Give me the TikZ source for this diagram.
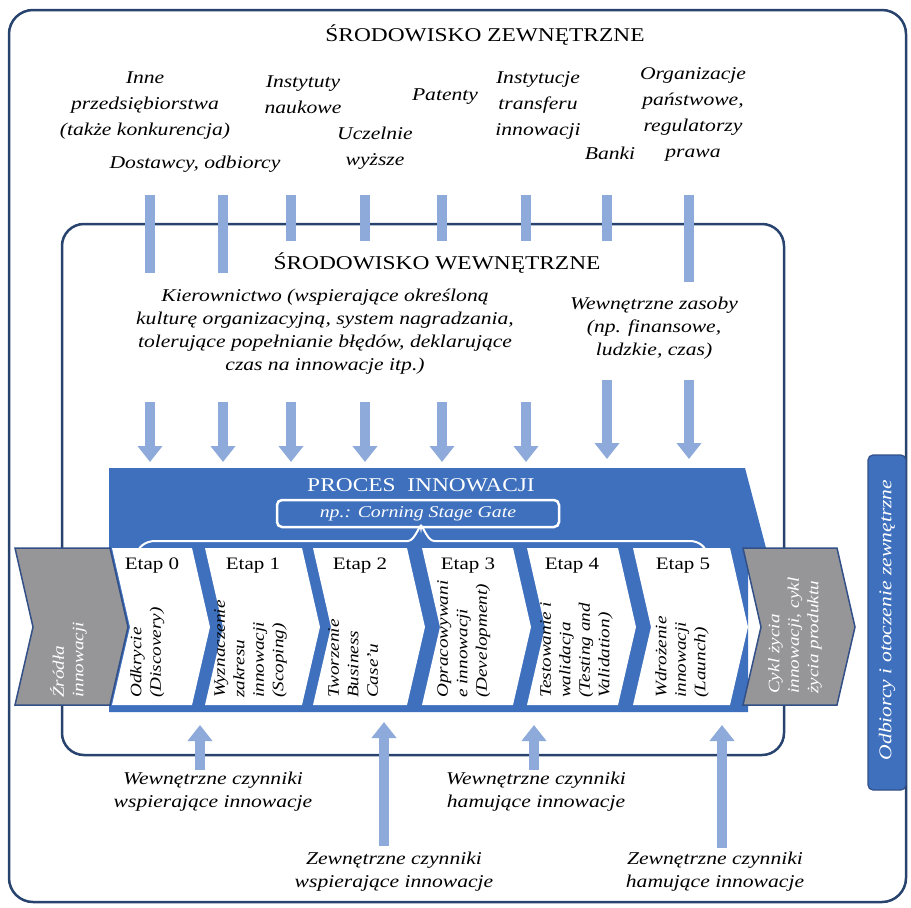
\documentclass[tikz,border=0pt]{standalone}
\usepackage{fontspec}
\setmainfont{Liberation Serif}[FakeStretch=1.2]
\usetikzlibrary{arrows.meta}
\definecolor{frame}{RGB}{40,68,110}
\definecolor{lblue}{RGB}{142,170,219}
\definecolor{pblue}{RGB}{62,112,190}
\definecolor{cgray}{RGB}{150,150,152}
\definecolor{cedge}{RGB}{50,80,135}
\tikzset{
  envbox/.style={draw=frame, line width=2.5pt, rounded corners=24pt},
  feedline/.style={draw=lblue, line width=10pt},
  flowarrow/.style={draw=lblue, line width=10pt, -{Triangle[width=24pt,length=16pt]}},
  lbl/.style={font=\fontsize{18}{26}\selectfont\itshape, align=center, inner sep=0pt},
  lblb/.style={font=\fontsize{18}{23}\selectfont\itshape, align=center, inner sep=0pt},
  ttl/.style={font=\fontsize{19.5}{22}\selectfont, inner sep=0pt},
  etap/.style={font=\fontsize{17.5}{20}\selectfont, inner sep=0pt},
  rot/.style={font=\fontsize{16}{19.5}\selectfont\itshape, align=left, inner sep=0pt, rotate=90, anchor=north west},
  chev/.style={fill=white},
  graychev/.style={fill=cgray, draw=cedge, line width=1.5pt, line join=miter},
}
\begin{document}
\begin{tikzpicture}[x=1pt,y=-1pt]
\useasboundingbox (0,0) rectangle (911,908);
\fill[white] (0,0) rectangle (911,908);
% environments
\draw[envbox] (9,10) rectangle (906,902);
\draw[envbox, rounded corners=22pt] (62,224) rectangle (784,755);

% external texts
\node[ttl] (ext) at (485,35) {ŚRODOWISKO ZEWNĘTRZNE};
\node[lbl] (inne) at (145,106) {Inne\\przedsiębiorstwa\\(także konkurencja)};
\node[lbl] (dost) at (195,164) {Dostawcy, odbiorcy};
\node[lbl] (inst) at (303,95) {Instytuty\\naukowe};
\node[lbl] (ucz) at (375,148) {Uczelnie\\wyższe};
\node[lbl] (pat) at (445,97) {Patenty};
\node[lbl] (itr) at (538,105) {Instytucje\\transferu\\innowacji};
\node[lbl] (banki) at (610,153) {Banki};
\node[lbl] (org) at (693,114) {Organizacje\\państwowe,\\regulatorzy\\prawa};

% feed lines from the outside
\foreach \x/\e [count=\i] in {150/273,223/273,291/241,365/241,442/241,526/241,607/241,689/282}{
  \coordinate (ft\i) at (\x,195);
  \coordinate (fe\i) at (\x,\e);
  \draw[feedline] (ft\i) -- (fe\i);
}

% internal texts
\node[ttl] (int) at (437,263) {ŚRODOWISKO WEWNĘTRZNE};
\node[lblb] (kier) at (325,332) {Kierownictwo (wspierające określoną\\kulturę organizacyjną, system nagradzania,\\tolerujące popełnianie błędów, deklarujące\\czas na innowacje itp.)};
\node[lblb] (zas) at (654,328) {Wewnętrzne zasoby\\(np. finansowe,\\ludzkie, czas)};

% arrows down into the process
\foreach \x/\s/\e [count=\i] in {150/402/462,223/402/462,291/402/462,365/402/462,442/402/462,526/402/462,607/380/459,689/380/459}{
  \coordinate (ds\i) at (\x,\s);
  \coordinate (de\i) at (\x,\e);
  \draw[flowarrow] (ds\i) -- (de\i);
}

% process banner and band
\fill[pblue] (109,468) -- (745,468) -- (766,548) -- (748,548) -- (748,712) -- (109,712) -- cycle;
\node[ttl, text=white] (proc) at (421,485) {PROCES \ INNOWACJI};
\node[draw=white, line width=2.5pt, rounded corners=5pt, minimum width=282pt, minimum height=27pt, inner sep=0pt,
      font=\fontsize{16.5}{18}\selectfont\itshape, text=white] (corn) at (418,513.5) {np.: Corning Stage Gate};

% chevrons
\foreach \L/\R [count=\i from 0] in {112/192,205/302,313/407,422/513,527/618,633/730}{
  \fill[chev] (\L,548) -- (\R,548) -- ({\R+18},627) -- (\R,705) -- (\L,705) -- ({\L+18},627) -- cycle;
}
% brace
\draw[white, line width=2pt] (137,556) to[out=90, in=180] (155,541) -- (408,541) to[out=0, in=90] (421,527.5)
      to[out=90, in=180] (434,541) -- (690,541) to[out=0, in=90] (707,556);

\draw[graychev] (15,548) -- (110,548) -- (128,627) -- (110,705) -- (15,705) -- (33,627) -- cycle;
\draw[graychev] (743,548) -- (837,548) -- (855,627) -- (837,705) -- (743,705) -- (761,627) -- cycle;

% stage labels
\node[etap] (e0) at (152,566) {Etap 0};
\node[etap] (e1) at (253,566) {Etap 1};
\node[etap] (e2) at (360,566) {Etap 2};
\node[etap] (e3) at (468,566) {Etap 3};
\node[etap] (e4) at (572,566) {Etap 4};
\node[etap] (e5) at (683,566) {Etap 5};

\node[rot, text=white] (src) at (50,698) {Źródła\\innowacji};
\node[rot] (t0) at (130,698) {Odkrycie\\(Discovery)};
\node[rot] (t1) at (214,698) {Wyznaczenie\\zakresu\\innowacji\\(Scoping)};
\node[rot] (t2) at (328,698) {Tworzenie\\Business\\Case'u};
\node[rot] (t3) at (437,698) {Opracowywani\\e innowacji\\(Development)};
\node[rot] (t4) at (540,698) {Testowanie i\\walidacja\\(Testing and\\Validation)};
\node[rot] (t5) at (655,698) {Wdrożenie\\innowacji\\(Launch)};
\node[rot, text=white] (life) at (768,694) {Cykl życia\\innowacji, cykl\\życia produktu};

% right box
\draw[fill=pblue, draw=cedge, line width=1.2pt, rounded corners=5pt] (868,455) rectangle (906,790);
\node[rotate=90, text=white, inner sep=0pt, font=\fontsize{18}{20}\selectfont\itshape] (odb) at (887,620) {Odbiorcy i otoczenie zewnętrzne};

% bottom factors
\node[lblb] (wwsp) at (213,792) {Wewnętrzne czynniki\\wspierające innowacje};
\node[lblb] (wham) at (536,792) {Wewnętrzne czynniki\\hamujące innowacje};
\node[lblb] (zwsp) at (394,872) {Zewnętrzne czynniki\\wspierające innowacje};
\node[lblb] (zham) at (715,872) {Zewnętrzne czynniki\\hamujące innowacje};

\foreach \x/\s/\e [count=\i] in {200/770/725,384/846/722,534/770/725,722/848/725}{
  \coordinate (us\i) at (\x,\s);
  \coordinate (ue\i) at (\x,\e);
  \draw[flowarrow] (us\i) -- (ue\i);
}
\end{tikzpicture}
\end{document}
